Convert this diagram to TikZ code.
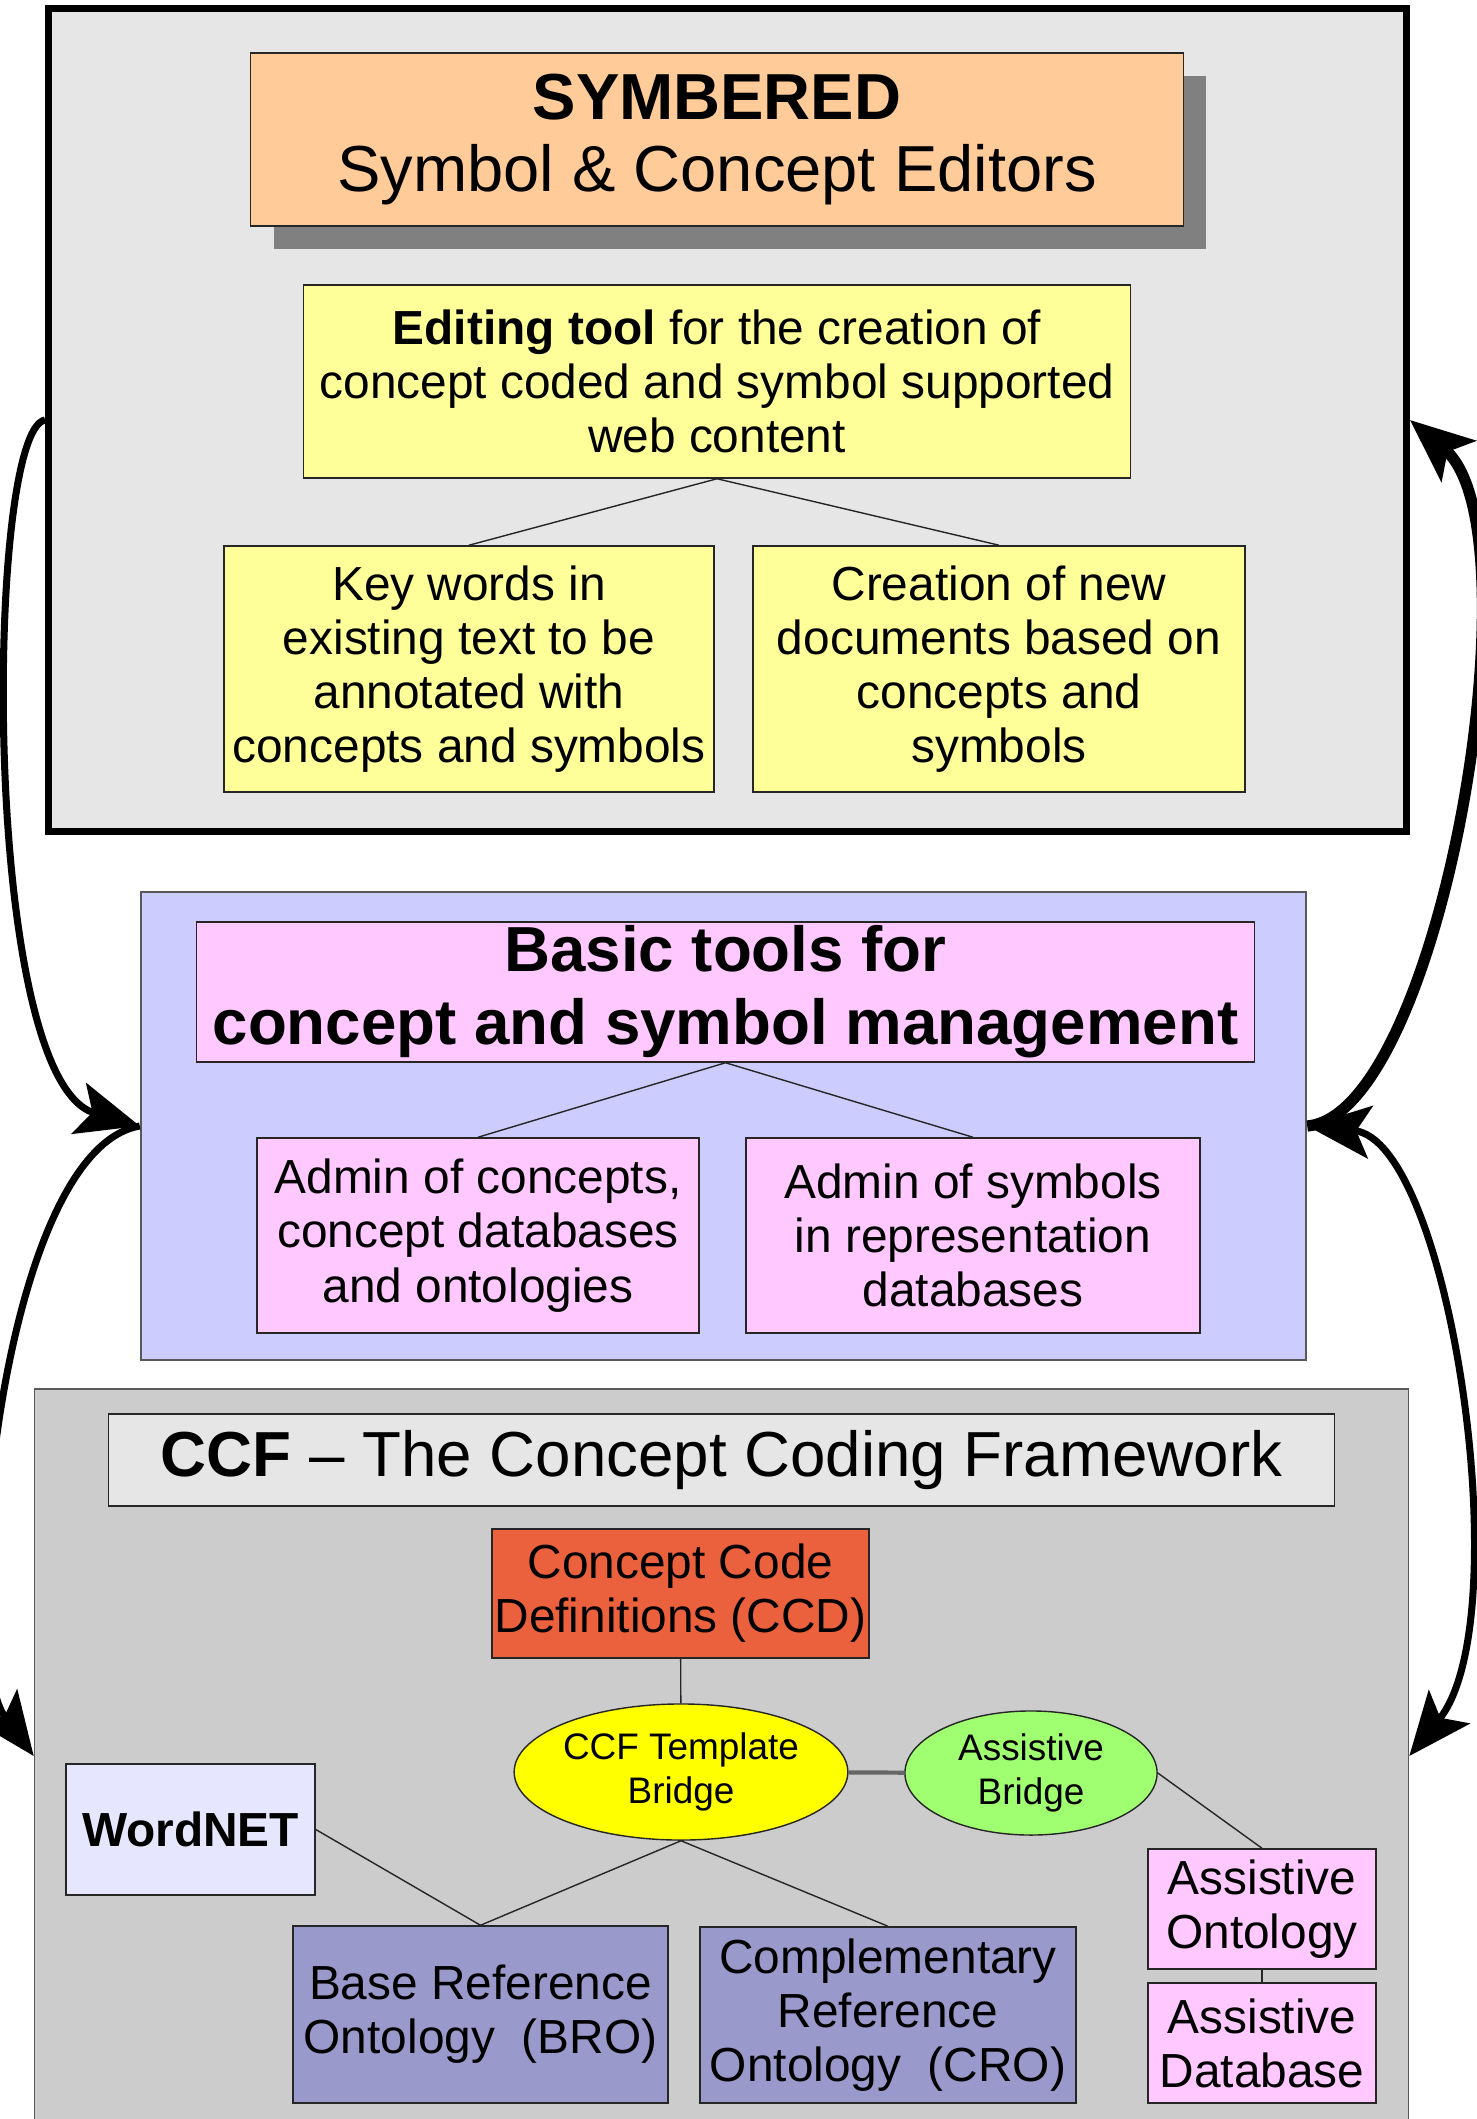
\documentclass[tikz,border=0pt]{standalone}
\usepackage{fontspec}
\setmainfont{Liberation Sans}
\usetikzlibrary{positioning}
\usetikzlibrary{shapes.geometric}
\usetikzlibrary{shadows}
\usetikzlibrary{arrows.meta}

\definecolor{framegray}{HTML}{E6E6E6}
\definecolor{peach}{HTML}{FFCC99}
\definecolor{paleyellow}{HTML}{FFFF99}
\definecolor{lavender}{HTML}{CCCCFF}
\definecolor{palepink}{HTML}{FFC8FF}
\definecolor{midgray}{HTML}{CCCCCC}
\definecolor{ccdred}{HTML}{EB613D}
\definecolor{bridgeyellow}{HTML}{FFFF00}
\definecolor{bridgegreen}{HTML}{A0FF70}
\definecolor{wordblue}{HTML}{E6E6FF}
\definecolor{ontoblue}{HTML}{9999CC}

\begin{document}
\begin{tikzpicture}[x=0.01cm, y=-0.01cm]
  \tikzstyle{every node}=[font=\fontsize{13.6}{15.4}\selectfont, align=center, inner sep=0pt]
  \tikzstyle{frame}=[rectangle, draw=black!65, line width=0.5pt]
  \tikzstyle{box}=[rectangle, draw=black!85, line width=0.4pt]
  \tikzstyle{bubble}=[ellipse, draw=black!85, line width=0.4pt]
  \tikzstyle{link}=[draw=black!85, line width=0.4pt]
  \tikzstyle{bigarrow}=[line width=2pt, >={Stealth[length=18pt,width=15pt,inset=4pt]}]
  \useasboundingbox (0,0) rectangle (1476,2119);
  % SYMBERED editors
  \node [frame, fill=framegray, draw=black, line width=2pt, minimum width=13.57cm, minimum height=8.22cm] at (727.5,420) (editors) {};
  \node [box, fill=peach, minimum width=9.32cm, minimum height=1.73cm, drop shadow={shadow xshift=0.23cm, shadow yshift=-0.23cm, fill=black!50, opacity=1}, font=\fontsize{18.5}{20.5}\selectfont] at (717,139.5) (symbered) {\textbf{SYMBERED}\\Symbol \& Concept Editors};
  \node [box, fill=paleyellow, minimum width=8.26cm, minimum height=1.93cm] at (717,381.5) (editing) {\textbf{Editing tool} for the creation of\\concept coded and symbol supported\\web content};
  \node [box, fill=paleyellow, minimum width=4.90cm, minimum height=2.46cm] at (469,669) (keywords) {Key words in\\existing text to be\\annotated with\\concepts and symbols};
  \node [box, fill=paleyellow, minimum width=4.92cm, minimum height=2.46cm] at (999,669) (creation) {Creation of new\\documents based on\\concepts and\\symbols};
  \draw[link] (editing.south) -- (keywords.north);
  \draw[link] (editing.south) -- (creation.north);
  % basic tools
  \node [frame, fill=lavender, minimum width=11.65cm, minimum height=4.68cm] at (723.5,1126) (management) {};
  \node [box, fill=palepink, minimum width=10.57cm, minimum height=1.40cm, font=\fontsize{18.1}{20.7}\selectfont\bfseries] at (725.5,992) (basic) {Basic tools for\\concept and symbol management};
  \node [box, fill=palepink, minimum width=4.42cm, minimum height=1.95cm] at (478,1235.5) (adminconcepts) {Admin of concepts,\\concept databases\\and ontologies};
  \node [box, fill=palepink, minimum width=4.54cm, minimum height=1.95cm] at (973,1235.5) (adminsymbols) {Admin of symbols\\in representation\\databases};
  \draw[link] (basic.south) -- (adminconcepts.north);
  \draw[link] (basic.south) -- (adminsymbols.north);
  % CCF
  \node [frame, fill=midgray, minimum width=13.73cm, minimum height=7.34cm] at (721.5,1756) (ccf) {};
  \node [box, fill=framegray, minimum width=12.25cm, minimum height=0.92cm, font=\fontsize{18.1}{20.7}\selectfont] at (721.5,1460) (ccftitle) {\textbf{CCF} \textendash{} The Concept Coding Framework};
  \node [box, fill=ccdred, minimum width=3.77cm, minimum height=1.29cm] at (680.5,1593.5) (ccd) {Concept Code\\Definitions (CCD)};
  \node [bubble, fill=bridgeyellow, minimum width=3.32cm, minimum height=1.36cm, font=\fontsize{10.5}{12.3}\selectfont] at (681,1772) (template) {CCF Template\\Bridge};
  \node [bubble, fill=bridgegreen, minimum width=2.52cm, minimum height=1.24cm, font=\fontsize{10.5}{12.3}\selectfont] at (1031,1773) (assistive) {Assistive\\Bridge};
  \node [box, fill=wordblue, minimum width=2.49cm, minimum height=1.31cm] at (190.5,1829.5) (wordnet) {\textbf{WordNET}};
  \node [box, fill=ontoblue, minimum width=3.75cm, minimum height=1.77cm] at (480.5,2014.5) (bro) {Base Reference\\Ontology\ \ (BRO)};
  \node [box, fill=ontoblue, minimum width=3.76cm, minimum height=1.76cm] at (888,2015) (cro) {Complementary\\Reference\\Ontology\ \ (CRO)};
  \node [box, fill=palepink, minimum width=2.28cm, minimum height=1.20cm] at (1262,1909) (assontology) {Assistive\\Ontology};
  \node [box, fill=palepink, minimum width=2.28cm, minimum height=1.20cm] at (1262,2043) (assdatabase) {Assistive\\Database};
  \draw[link] (ccd) -- (template);
  \draw[link, draw=black!60, line width=1.2pt] (template) -- (assistive);
  \draw[link] (template.south) -- (bro.north);
  \draw[link] (template.south) -- (cro.north);
  \draw[link] (wordnet.east) -- (bro.north);
  \draw[link] (assistive.east) -- (assontology.north);
  \draw[link] (assontology) -- (assdatabase);
  % arrows between the three layers
  \draw[bigarrow, ->] (editors.west) .. controls (-15,430) and (-20,1080) .. (management.west);
  \draw[bigarrow, ->] (management.west) .. controls (0,1150) and (-45,1650) .. (ccf.west);
  \draw[bigarrow, ->, line width=3.2pt] (management.east) .. controls (1440,1115) and (1540,530) .. (editors.east);
  \draw[bigarrow, <->] (management.east) .. controls (1450,1140) and (1520,1620) .. (ccf.east);
\end{tikzpicture}
\end{document}
